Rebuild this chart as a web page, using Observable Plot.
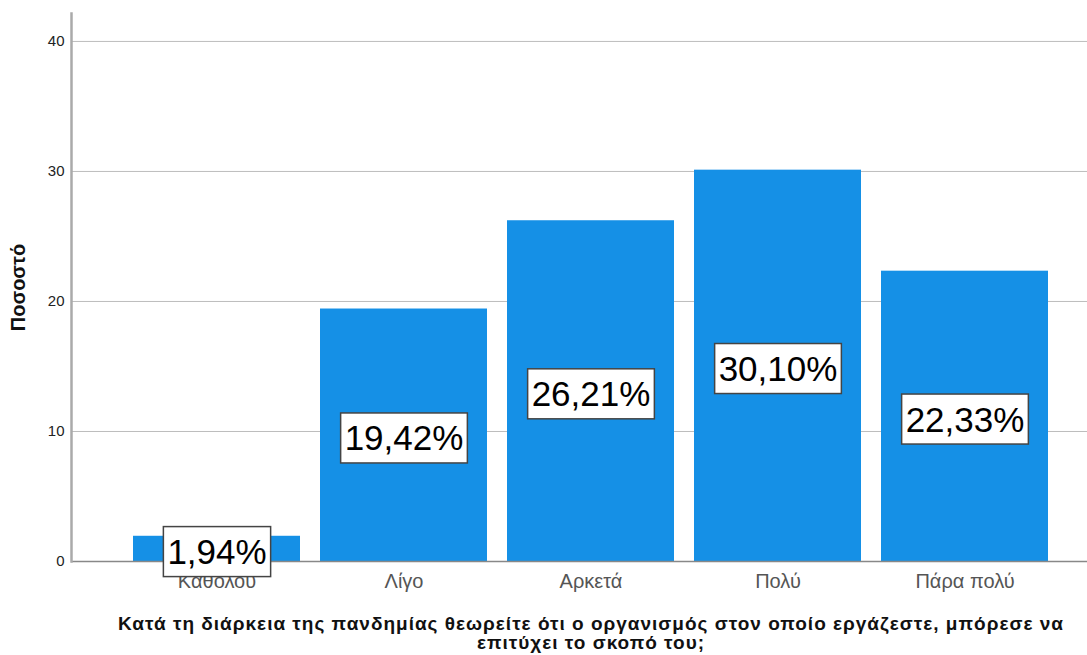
<!DOCTYPE html>
<html><head><meta charset="utf-8">
<script src="https://cdn.jsdelivr.net/npm/d3@7"></script>
<script src="https://cdn.jsdelivr.net/npm/@observablehq/plot@0.6"></script>
<style>
body{margin:0;background:#fff;font-family:Arial,"Liberation Sans",sans-serif;}
g.xtitle text{letter-spacing:1px;}
</style></head>
<body><div id="chart"></div>
<script>
const categories = ["Καθόλου", "Λίγο", "Αρκετά", "Πολύ", "Πάρα πολύ"];
const values = [1.94, 19.42, 26.21, 30.10, 22.33];
const labels = ["1,94%", "19,42%", "26,21%", "30,10%", "22,33%"];
const yTicks = [0, 10, 20, 30, 40];
const yLabel = "Ποσοστό";
const xTitle = "Κατά τη διάρκεια της πανδημίας θεωρείτε ότι ο οργανισμός στον οποίο εργάζεστε, μπόρεσε να\nεπιτύχει το σκοπό του;";

const data = categories.map((c, i) => ({cat: c, value: values[i], label: labels[i]}));

const chart = Plot.plot({
  width: 1087,
  height: 655,
  marginLeft: 71,
  marginRight: 0,
  marginTop: 13,
  marginBottom: 94,
  style: {fontFamily: "Arial, 'Liberation Sans', sans-serif", background: "#fff"},
  x: {domain: categories, paddingInner: 0.107, paddingOuter: 0.27, align: 0.61, label: null},
  y: {domain: [0, 42.15], label: null},
  marks: [
    Plot.gridY(yTicks, {stroke: "#bdbdbd", strokeOpacity: 1, strokeWidth: 1}),
    Plot.axisY(yTicks, {tickSize: 0, tickPadding: 7, fill: "#222", label: null}),
    Plot.barY(data, {x: "cat", y: "value", fill: "#1590e6"}),
    Plot.ruleY([0], {stroke: "#888", strokeWidth: 1.5}),
    Plot.frame({anchor: "left", stroke: "#aaa", strokeWidth: 2.5}),
    Plot.axisX({tickSize: 0, tickPadding: 12, fill: "#555", label: null}),
    Plot.text(data, {x: "cat", y: d => d.value / 2, text: "label", fontSize: 35, fill: "#000", dy: 4, className: "boxlbl"}),
    Plot.text([yLabel], {frameAnchor: "left", textAnchor: "middle", rotate: -90, dx: -53, fontSize: 20, fontWeight: "bold", fill: "#111"}),
    Plot.text([xTitle], {x: () => categories[2], frameAnchor: "bottom", dy: 87, lineAnchor: "bottom", fontSize: 19, fontWeight: "bold", fill: "#111", lineHeight: 1.0, className: "xtitle"})
  ]
});
document.getElementById("chart").appendChild(chart);

// tick label font sizes
const yTickStr = yTicks.map(String);
chart.querySelectorAll("text").forEach(t => {
  const s = t.textContent.trim();
  if (categories.includes(s)) t.setAttribute("font-size", "20"), t.style.fontSize = "20px";
  else if (yTickStr.includes(s)) t.setAttribute("font-size", "15"), t.style.fontSize = "15px";
});

// white boxes behind value labels
chart.querySelectorAll("g.boxlbl text").forEach(t => {
  const b = t.getBBox();
  const r = document.createElementNS("http://www.w3.org/2000/svg", "rect");
  const tr = t.getAttribute("transform");
  if (tr) r.setAttribute("transform", tr);
  const h = 50;
  r.setAttribute("x", b.x - 4);
  r.setAttribute("y", b.y + b.height / 2 - h / 2);
  r.setAttribute("width", b.width + 8);
  r.setAttribute("height", h);
  r.setAttribute("fill", "#fff");
  r.setAttribute("stroke", "#444");
  r.setAttribute("stroke-width", "1.5");
  t.parentNode.insertBefore(r, t);
});
</script></body></html>
